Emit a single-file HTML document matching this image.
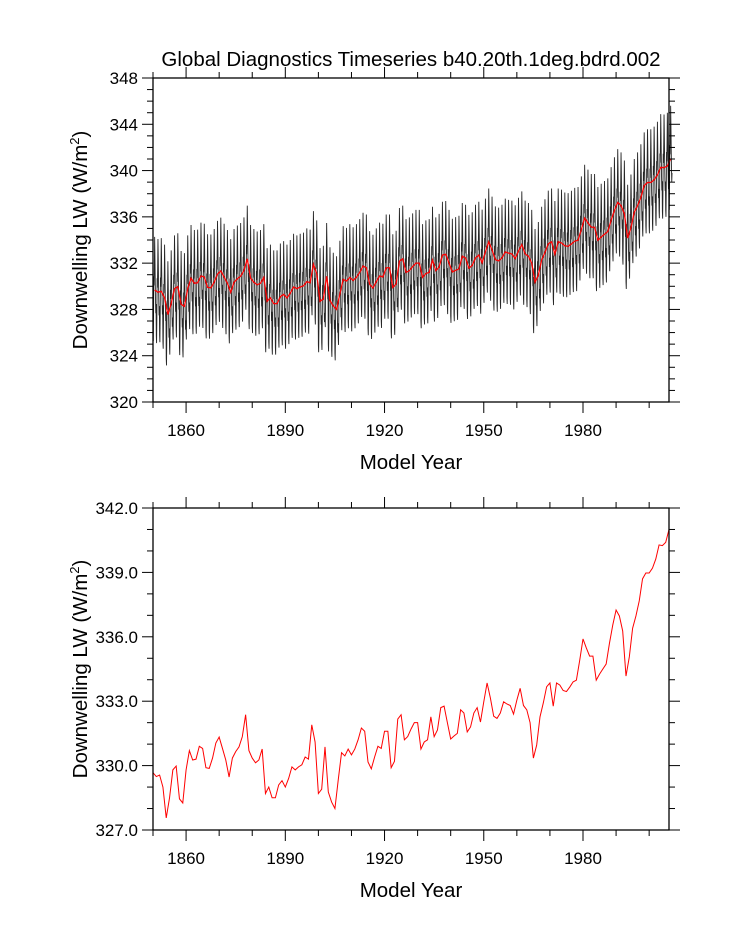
<!DOCTYPE html>
<html><head><meta charset="utf-8">
<style>
body{margin:0;background:#fff;}
svg{display:block;font-family:"Liberation Sans",Arial,sans-serif;}
</style></head>
<body>
<svg id="chart" width="733" height="945" viewBox="0 0 733 945" xmlns="http://www.w3.org/2000/svg">
<text x="411" y="66" font-size="20.5" text-anchor="middle">Global Diagnostics Timeseries b40.20th.1deg.bdrd.002</text>
<g id="top"></g>
<g id="bot"></g>
</svg>
<script>
const years=[];for(let y=1850;y<=2006;y++)years.push(y);
const annualLW=[329.67,329.49,329.56,329.0,327.56,328.5,329.8,329.98,328.45,328.26,
329.8,330.7,330.26,330.3,330.9,330.8,329.9,329.87,330.35,331.05,
331.33,330.8,330.26,329.47,330.35,330.65,330.87,331.35,332.37,330.7,
330.35,330.13,330.26,330.77,328.7,329.0,328.5,328.5,329.1,329.3,
329.0,329.4,329.94,329.8,329.94,330.04,330.4,330.3,331.9,331.1,
328.7,328.9,330.87,328.77,328.3,328.0,329.33,330.6,330.45,330.77,
330.5,330.77,331.2,331.75,331.6,330.17,329.85,330.4,330.9,330.8,
331.6,331.6,329.9,330.2,332.17,332.37,331.2,331.35,331.7,332.0,
332.0,330.77,331.1,331.2,332.27,331.35,331.66,332.7,332.77,332.0,
331.24,331.38,331.5,332.6,332.45,331.57,331.8,332.45,332.7,332.03,
332.97,333.85,333.15,332.3,332.2,332.45,332.97,332.87,332.8,332.4,
333.05,333.6,332.8,332.6,332.0,330.35,330.96,332.27,332.92,333.67,
333.85,332.77,333.85,333.75,333.5,333.45,333.66,333.9,333.98,334.9,
335.9,335.48,335.1,335.1,333.98,334.26,334.5,334.73,335.7,336.55,
337.25,336.97,336.27,334.17,335.06,336.4,336.97,337.67,338.7,338.97,
338.97,339.2,339.62,340.28,340.25,340.4,341.0];
const seasonalAnom=[-3.8,-4.4,-2.2,1.2,0.4,2.2,4.6,3.0,1.0,-0.8,-2.0,-1.2];
const topTicks=[320,324,328,332,336,340,344,348];
const botTicks=[327,330,333,336,339,342];
const xTicks=[1860,1890,1920,1950,1980];

const NS="http://www.w3.org/2000/svg";
function mk(p,t,a,txt){const e=document.createElementNS(NS,t);for(const k in a)e.setAttribute(k,a[k]);if(txt!=null)e.textContent=txt;p.appendChild(e);return e;}
const X0=153,X1=669,XMIN=1850,XMAX=2006;
const sx=v=>X0+(v-XMIN)/(XMAX-XMIN)*(X1-X0);

function panel(g,top,bot,ymin,ymax,ticks,minorStep,fmt,monthly){
  const sy=v=>bot-(v-ymin)/(ymax-ymin)*(bot-top);
  if(monthly){
    let d="";
    for(let i=0;i<annualLW.length;i++)for(let m=0;m<12;m++){
      const v=annualLW[i]+seasonalAnom[m];
      d+=(d?"L":"M")+sx(years[i]+m/12).toFixed(2)+" "+sy(v).toFixed(2);
    }
    const p=mk(g,"path",{d:d,fill:"none",stroke:"#000","stroke-width":"0.9","stroke-opacity":"0.85"});
    
    
  }
  let d2="";
  for(let i=0;i<annualLW.length;i++){d2+=(i?"L":"M")+sx(years[i]+(monthly?0.5:0)).toFixed(2)+" "+sy(annualLW[i]).toFixed(2);}
  const r=mk(g,"path",{d:d2,fill:"none",stroke:"#f00","stroke-width":monthly?"1.3":"1"});
  
  
  mk(g,"rect",{x:X0,y:top,width:X1-X0,height:bot-top,fill:"none",stroke:"#000","stroke-width":"1.3"});
  for(let v=ymin;v<=ymax+1e-6;v+=minorStep){
    const maj=ticks.some(t=>Math.abs(t-v)<1e-6);const L=maj?11:6;const y=sy(v);
    mk(g,"line",{x1:X0-L,x2:X0,y1:y,y2:y,stroke:"#000","stroke-width":"1"});
    mk(g,"line",{x1:X1,x2:X1+L,y1:y,y2:y,stroke:"#000","stroke-width":"1"});
  }
  ticks.forEach(t=>{const e=mk(g,"text",{x:X0-15,y:sy(t)+6,"font-size":"17","text-anchor":"end"},fmt(t));
    });
  for(let v=1850;v<=2006;v+=10){
    const maj=xTicks.includes(v);const L=maj?11:6;const x=sx(v);
    mk(g,"line",{x1:x,x2:x,y1:bot,y2:bot+L,stroke:"#000","stroke-width":"1"});
    mk(g,"line",{x1:x,x2:x,y1:top-L,y2:top,stroke:"#000","stroke-width":"1"});
  }
  xTicks.forEach(t=>{const e=mk(g,"text",{x:sx(t),y:bot+34,"font-size":"17","text-anchor":"middle"},String(t));
    });
  const xt=mk(g,"text",{x:411,y:bot+67,"font-size":"20.5","text-anchor":"middle"},"Model Year");
  
  const cy=(top+bot)/2;
  const yt=mk(g,"text",{x:0,y:0,"font-size":"20.5","text-anchor":"middle",transform:`translate(87,${cy}) rotate(-90)`});
  
  yt.appendChild(document.createTextNode("Downwelling LW (W/m"));
  const s=document.createElementNS(NS,"tspan");s.setAttribute("dy","-8");s.setAttribute("font-size","13");s.textContent="2";yt.appendChild(s);
  const s2=document.createElementNS(NS,"tspan");s2.setAttribute("dy","8");s2.textContent=")";yt.appendChild(s2);
}
panel(document.getElementById("top"),78,402,320,348,topTicks,1,t=>String(t),true);
panel(document.getElementById("bot"),508,830,327,342,botTicks,1,t=>t.toFixed(1),false);
</script>
</body></html>
